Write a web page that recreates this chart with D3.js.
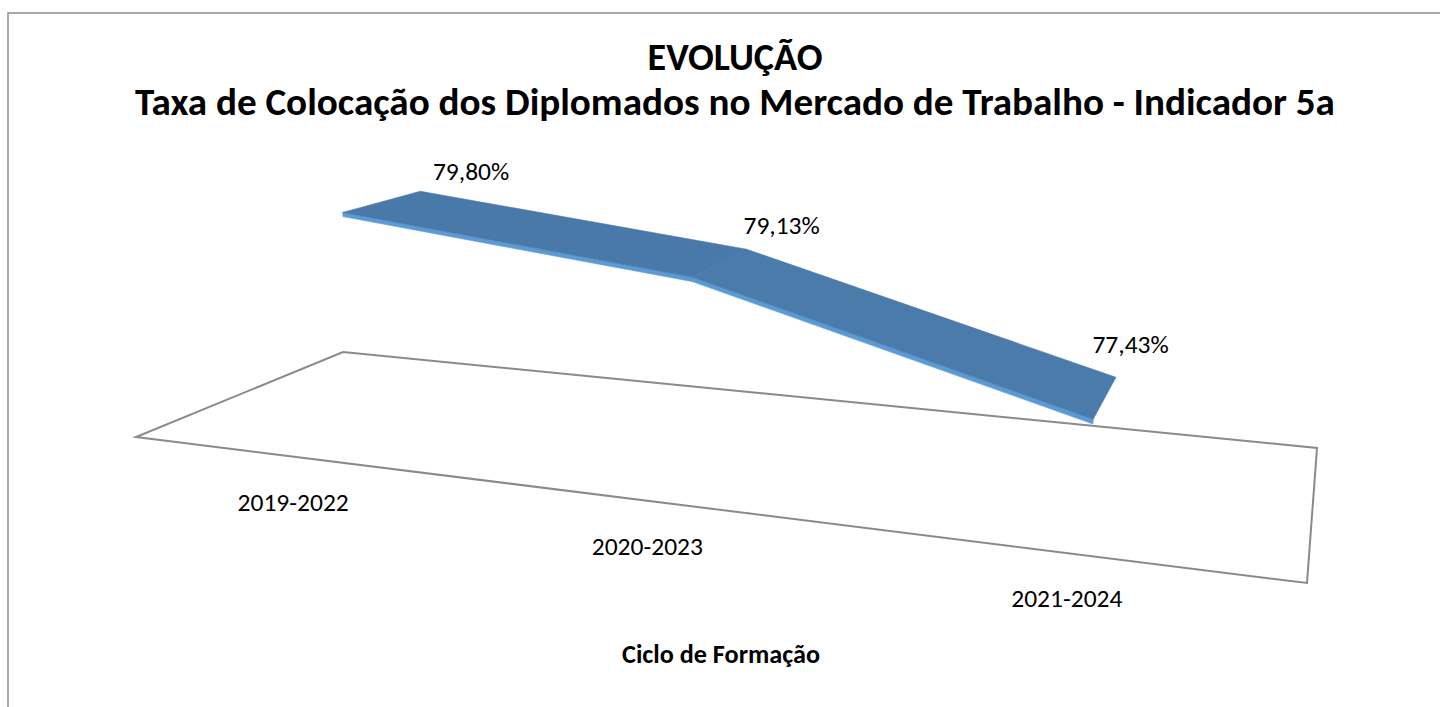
<!DOCTYPE html>
<html>
<head>
<meta charset="utf-8">
<script src="https://cdn.jsdelivr.net/npm/d3@7"></script>
<style>
  html, body { margin: 0; padding: 0; background: #fff; }
  svg { display: block; }
</style>
</head>
<body>
<div id="chart"></div>
<script>
// data
const categories = ["2019-2022", "2020-2023", "2021-2024"];
const values = [79.80, 79.13, 77.43];
const valueDomain = [76, 81];

const titleLines = ["EVOLUÇÃO", "Taxa de Colocação dos Diplomados no Mercado de Trabalho - Indicador 5a"];
const axisTitle = "Ciclo de Formação";

const width = 1440, height = 707;
const font = "Calibri, Carlito, 'Liberation Sans', Arial, sans-serif";

// floor of the 3d plot area (front-left, front-right, back-right, back-left)
const floorCorners = [[136, 437], [1307, 583], [1317, 448], [343, 352]];
// vanishing point of the vertical edges + perspective strength
const vp = [720, 5900];
const persp = -1 / 5470;

// unit square -> quad (Heckbert)
function homography(q) {
  const [p0, p1, p2, p3] = q;
  const sx = p0[0] - p1[0] + p2[0] - p3[0],
    sy = p0[1] - p1[1] + p2[1] - p3[1];
  const dx1 = p1[0] - p2[0], dx2 = p3[0] - p2[0],
    dy1 = p1[1] - p2[1], dy2 = p3[1] - p2[1];
  const den = dx1 * dy2 - dx2 * dy1;
  const g = (sx * dy2 - dx2 * sy) / den;
  const h = (dx1 * sy - sx * dy1) / den;
  return {
    a: p1[0] - p0[0] + g * p1[0],
    b: p3[0] - p0[0] + h * p3[0],
    c: p0[0],
    d: p1[1] - p0[1] + g * p1[1],
    e: p3[1] - p0[1] + h * p3[1],
    f: p0[1],
    g: g,
    h: h,
  };
}
const H = homography(floorCorners);

// u: across categories, w: depth (0 front, 1 back), yv: height
function project(u, w, yv) {
  const D = H.g * u + H.h * w + 1;
  const X = H.a * u + H.b * w + H.c;
  const Y = H.d * u + H.e * w + H.f;
  const den = D + persp * yv;
  return [(X + persp * yv * vp[0]) / den, (Y + persp * yv * vp[1]) / den];
}

const x = d3.scalePoint().domain(categories).range([0, 1]).padding(0.5);
const y = d3.scaleLinear().domain(valueDomain).range([0, 276]);

const ptFormat = d3.formatLocale({
  decimal: ",",
  thousands: ".",
  grouping: [3],
  currency: ["", " €"],
}).format(".2f");

const ribbonFront = 0.3, ribbonBack = 0.7, thick = 4;

const svg = d3
  .select("#chart")
  .append("svg")
  .attr("width", width)
  .attr("height", height);

// chart area border
svg
  .append("rect")
  .attr("x", 8)
  .attr("y", 13)
  .attr("width", width)
  .attr("height", height)
  .attr("fill", "#fff")
  .attr("stroke", "#8e8e8e")
  .attr("stroke-width", 1.5);

// floor
const floorPts = [[0, 0], [1, 0], [1, 1], [0, 1]].map((p) => project(p[0], p[1], 0));
svg
  .append("polygon")
  .attr("points", floorPts.map((p) => p.join(",")).join(" "))
  .attr("fill", "none")
  .attr("stroke", "#8a8a8a")
  .attr("stroke-width", 2)
  .attr("stroke-linejoin", "miter");

// ribbon
const pts = categories.map((c, i) => ({ u: x(c), v: values[i] }));
const segs = d3.pairs(pts);
const topColors = ["#4879a9", "#4a7bab"];

const gLine = svg.append("g");
segs.forEach(function (s, i) {
  const a = s[0], b = s[1];
  const front = [
    project(a.u, ribbonFront, y(a.v)),
    project(b.u, ribbonFront, y(b.v)),
    project(b.u, ribbonFront, y(b.v) - thick),
    project(a.u, ribbonFront, y(a.v) - thick),
  ];
  gLine
    .append("polygon")
    .attr("points", front.map((p) => p.join(",")).join(" "))
    .attr("fill", "#5b9bd5")
    .attr("stroke", "#5b9bd5")
    .attr("stroke-width", 0.6);
});
segs.forEach(function (s, i) {
  const a = s[0], b = s[1];
  const top = [
    project(a.u, ribbonFront, y(a.v)),
    project(b.u, ribbonFront, y(b.v)),
    project(b.u, ribbonBack, y(b.v)),
    project(a.u, ribbonBack, y(a.v)),
  ];
  gLine
    .append("polygon")
    .attr("points", top.map((p) => p.join(",")).join(" "))
    .attr("fill", topColors[i])
    .attr("stroke", topColors[i])
    .attr("stroke-width", 0.6)
    .attr("stroke-linejoin", "round");
});

// data labels
svg
  .selectAll(".val-label")
  .data(pts)
  .enter()
  .append("text")
  .attr("class", "val-label")
  .attr("x", (d) => project(d.u, 1, y(d.v))[0])
  .attr("y", (d) => project(d.u, 1, y(d.v))[1] + 3)
  .attr("text-anchor", "middle")
  .attr("font-family", font)
  .attr("font-size", "25.5px")
  .attr("fill", "#000")
  .text((d) => ptFormat(d.v) + "%");

// category labels
svg
  .selectAll(".cat-label")
  .data(categories)
  .enter()
  .append("text")
  .attr("class", "cat-label")
  .attr("x", (d) => project(x(d), 0, 0)[0])
  .attr("y", (d) => project(x(d), 0, 0)[1] + 54)
  .attr("text-anchor", "middle")
  .attr("font-family", font)
  .attr("font-size", "25.5px")
  .attr("fill", "#000")
  .text((d) => d);

// fit bold text to the width it has in the original
function fitText(sel, target) {
  const w = sel.node().getComputedTextLength();
  const fs = parseFloat(sel.attr("font-size"));
  sel.attr("font-size", (fs * target) / w + "px");
}

const t1 = svg
  .append("text")
  .attr("x", 735)
  .attr("y", 70)
  .attr("text-anchor", "middle")
  .attr("font-family", font)
  .attr("font-weight", "bold")
  .attr("font-size", "28px")
  .text(titleLines[0]);
fitText(t1, 175);

const t2 = svg
  .append("text")
  .attr("x", 735)
  .attr("y", 115)
  .attr("text-anchor", "middle")
  .attr("font-family", font)
  .attr("font-weight", "bold")
  .attr("font-size", "28px")
  .text(titleLines[1]);
fitText(t2, 1200);

const t3 = svg
  .append("text")
  .attr("x", 721)
  .attr("y", 663)
  .attr("text-anchor", "middle")
  .attr("font-family", font)
  .attr("font-weight", "bold")
  .attr("font-size", "19px")
  .text(axisTitle);
fitText(t3, 198);
</script>
</body>
</html>
